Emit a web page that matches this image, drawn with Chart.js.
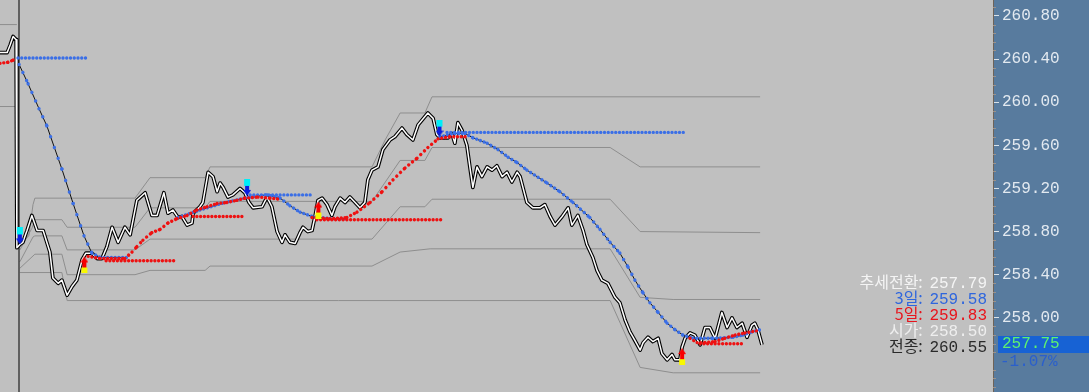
<!DOCTYPE html>
<html><head><meta charset="utf-8">
<script src="https://cdn.jsdelivr.net/npm/chart.js@4.4.1/dist/chart.umd.min.js"></script>
<style>
html,body{margin:0;padding:0;background:#c0c0c0;overflow:hidden}
#wrap{position:relative;width:1089px;height:392px}
canvas{display:block}
#legend{position:absolute;right:102px;top:273px;text-align:right;white-space:pre}
#legend div{height:16px;line-height:16px;font-size:16px}
#legend .k{font-family:"Noto Sans CJK KR",sans-serif}
#legend .v{font-family:"Liberation Mono",monospace;padding-left:3px}
#lastBox{position:absolute;left:998px;top:336px;width:91px;height:17px;background:#1762d4;color:#5ef070;font:16px/17px "Liberation Mono",monospace;padding-left:4px;box-sizing:border-box}
#chg{position:absolute;left:1000px;top:354px;height:17px;color:#2a5fcc;font:16px/17px "Liberation Mono",monospace}
</style></head>
<body><div id="wrap"><canvas id="c" width="1089" height="392"></canvas>
<div id="legend"></div><div id="lastBox"></div><div id="chg"></div></div>
<script>
// ---- data (x = bar index, y = price) ----
const yTicks = [258.00, 258.40, 258.80, 259.20, 259.60, 260.00, 260.40, 260.80];
const price = [[0,260.46],[1.9,260.46],[2.7,260.53],[3.5,260.61],[4.3,260.58],[4.5,258.65],
[5.3,258.68],[6.1,258.70],[7.2,258.81],[8.5,258.95],[9.9,258.81],[11.5,258.81],[13.3,258.61],[14.1,258.37],[15.5,258.32],[16.5,258.35],[17.9,258.21],[19.2,258.29],[20.5,258.35],[21.9,258.54],[22.9,258.60],[24.5,258.60],[25.9,258.55],[27.2,258.55],[28.5,258.66],[29.9,258.84],[31.5,258.70],[33.3,258.84],[34.7,258.77],[36.5,259.09],[38.7,259.16],[40.5,258.95],[41.9,258.95],[43.7,259.16],[44.8,258.97],[46.1,259.00],[47.5,258.93],[48.5,258.94],[49.9,258.86],[51.2,258.88],[51.5,258.97],[53.3,259.03],[54.1,259.07],[55.5,259.35],[56.8,259.31],[57.9,259.17],[58.7,259.25],[59.5,259.21],[60.8,259.12],[62.1,259.14],[64.0,259.20],[65.3,259.16],[66.4,259.07],[67.5,259.02],[69.9,259.03],[71.2,259.12],[72.5,259.03],[73.9,258.80],[75.2,258.70],[76.0,258.77],[77.3,258.70],[78.7,258.69],[80.0,258.79],[80.8,258.84],[82.1,258.80],[83.2,258.81],[84.0,258.94],[84.8,259.09],[85.9,259.11],[87.2,259.05],[88.5,258.95],[89.3,259.03],[90.7,259.11],[92.0,259.07],[93.3,259.12],[94.7,259.07],[96.0,259.02],[97.3,259.07],[98.1,259.28],[99.2,259.37],[100.8,259.40],[102.1,259.56],[104.0,259.65],[105.3,259.68],[107.2,259.76],[108.5,259.70],[110.1,259.65],[111.5,259.79],[114.1,259.90],[115.5,259.85],[116.5,259.70],[117.3,259.67],[119.5,259.67],[120.5,259.71],[121.3,259.62],[122.1,259.81],[123.2,259.74],[124.5,259.60],[125.3,259.40],[126.1,259.21],[127.2,259.40],[128.5,259.31],[129.9,259.40],[131.2,259.37],[132.5,259.41],[133.9,259.31],[135.2,259.35],[136.5,259.26],[137.9,259.35],[138.7,259.31],[140.5,259.07],[142.1,259.02],[144.0,259.02],[145.3,259.05],[146.7,258.94],[148.0,258.86],[149.9,258.94],[151.5,259.02],[152.5,258.86],[154.1,258.95],[155.5,258.81],[156.5,258.68],[158.1,258.56],[159.2,258.44],[160.5,258.35],[162.1,258.32],[164.0,258.19],[165.3,258.14],[166.7,257.98],[168.0,257.87],[169.3,257.79],[170.7,257.70],[171.5,257.77],[172.8,257.82],[174.1,257.78],[175.5,257.81],[176.5,257.67],[177.9,257.61],[179.2,257.66],[180.0,257.61],[181.3,257.61],[181.9,257.73],[182.7,257.81],[184.0,257.86],[185.3,257.84],[186.7,257.75],[188.0,257.91],[189.3,257.91],[190.7,257.81],[192.5,258.05],[193.9,257.91],[195.2,258.00],[196.5,257.91],[197.9,257.95],[199.2,257.82],[200.5,257.93],[201.3,257.95],[202.1,257.89],[203.2,257.75]];
const sessionStart = 5.07;
const env1 = [[0,260.72],[4.5,260.72],[4.6,null],[5.3,258.69],[7.7,258.76],[8.8,259.05],[9.3,259.11],[36.0,259.11],[40.0,259.30],[54.7,259.30],[56.0,259.40],[99.2,259.40],[102.7,259.65],[106.7,259.90],[113.3,259.90],[115.2,260.05],[202.7,260.05]];
const env2 = [[0,259.96],[4.5,259.96],[4.6,null],[5.3,258.63],[8.5,258.83],[9.3,258.91],[16.5,258.91],[17.9,258.84],[36.0,258.84],[40.0,259.02],[54.7,259.02],[56.0,259.08],[99.2,259.08],[106.7,259.46],[113.3,259.46],[115.2,259.58],[162.7,259.58],[170.7,259.40],[202.7,259.40]];
const env3 = [[5.3,258.52],[8.8,258.75],[9.3,258.76],[16.5,258.76],[17.9,258.63],[36.0,258.63],[40.0,258.73],[99.2,258.73],[106.7,259.03],[113.3,259.03],[115.2,259.10],[162.7,259.10],[170.7,258.80],[202.7,258.79]];
const env4 = [[5.3,258.46],[9.3,258.59],[16.5,258.59],[17.9,258.40],[36.0,258.40],[40.0,258.44],[54.7,258.44],[56.0,258.48],[99.2,258.48],[106.7,258.61],[114.7,258.64],[162.7,258.64],[170.7,258.19],[179.5,258.17],[202.7,258.17]];
const env5 = [[5.3,258.42],[16.5,258.42],[17.9,258.16],[162.7,258.16],[170.7,257.54],[179.5,257.49],[202.7,257.49]];
const blueCurve1 = [[5.1,260.35],[7.5,260.17],[10.4,259.94],[12.5,259.78],[16.5,259.38],[19.5,259.06],[22.4,258.76],[24.5,258.60],[26.7,258.56],[33.9,258.56]];
const blueCurve2 = [[47.5,258.93],[53.3,259.00],[60.0,259.07],[66.7,259.12],[71.2,259.14],[74.7,259.11],[77.3,259.04],[80.0,258.98],[83.2,258.94],[88.0,258.92],[92.5,258.92]];
const blueCurve3 = [[117.3,259.68],[121.3,259.71],[124.0,259.71],[126.1,259.67],[129.9,259.62],[132.8,259.56],[135.5,259.49],[137.9,259.44],[140.5,259.37],[145.9,259.25],[149.3,259.17],[152.8,259.07],[157.3,258.93],[160.0,258.82],[162.7,258.70],[165.3,258.60],[167.5,258.47],[169.3,258.35],[171.5,258.23],[173.3,258.14],[175.5,258.05],[177.9,257.95],[180.0,257.89],[182.1,257.84],[184.8,257.81],[190.1,257.81],[195.5,257.82],[198.1,257.84],[200.5,257.87],[202.7,257.89]];
const blueLevels = [[4.8,23.7,260.41],[66.7,83.2,259.14],[119.2,183.2,259.72]];
const redCurve0 = [[0,260.36],[2.1,260.37],[3.5,260.39],[4.0,260.41]];
const redCurve1 = [[23.5,258.57],[26.7,258.55],[33.3,258.55],[35.2,258.61],[36.5,258.66],[38.1,258.72],[40.5,258.79],[42.7,258.82],[44.8,258.88],[47.2,258.92],[49.9,258.95],[52.5,259.00],[55.2,259.03],[57.9,259.06],[60.5,259.07],[63.2,259.09],[65.3,259.11],[68.8,259.12],[72.0,259.11],[74.7,259.10]];
const redCurve2 = [[83.2,258.93],[88.0,258.92],[92.5,258.93],[95.2,258.98],[98.7,259.07],[101.9,259.17],[104.8,259.28],[108.0,259.39],[111.2,259.48],[114.1,259.58],[116.8,259.66],[120.0,259.68],[124.8,259.68]];
const redCurve3 = [[184.0,257.81],[185.9,257.77],[188.0,257.77],[190.7,257.78],[193.3,257.81],[196.0,257.84],[198.7,257.86],[201.9,257.88]];
const redLevels = [[28.3,46.9,258.53],[51.5,65.1,258.94],[84.5,118.4,258.91],[186.7,198.7,257.76]];
const sellSignals = [[5.3,258.76],[65.9,259.21],[117.2,259.76]];
const buySignals = [[22.5,258.49],[84.9,259.00],[181.9,257.64]];
const legendLabels = ['추세전환','3일','5일','시가','전종'];
const legendValues = [257.79, 259.58, 259.83, 258.50, 260.55];
const legendColors = ['#f4f4f4','#2f66dd','#e8141c','#eeeeee','#2a2a2a'];
const lastPrice = 257.75;
const changePct = -1.07;

// ---- helpers ----
const BLUE = '#3b6fe6', RED = '#ee1111';
const pts = a => a.map(([x,y]) => ({x, y}));
function barPx(chart){ const s = chart.scales.x; return Math.abs(s.getPixelForValue(1) - s.getPixelForValue(0)); }
function dotDash(ctx){
  const dx = Math.abs(ctx.p1.x - ctx.p0.x), dy = ctx.p1.y - ctx.p0.y;
  const bp = barPx(ctx.chart);
  const len = Math.hypot(dx, dy);
  const gap = dx > 0.01 ? bp * len / dx : bp;
  return [0.01, Math.max(gap - 0.01, 0.5)];
}
function dotted(a, color, order){
  return {data: pts(a), borderColor: color, borderWidth: 3.4, borderCapStyle: 'round', pointRadius: 0, order,
    segment: {borderDash: dotDash, borderColor: color, borderWidth: 3.4, borderCapStyle: 'round'}};
}
function levelPts(l){ return [[l[0], l[2]], [l[1], l[2]]]; }
function plain(a, color, width, order, extra){
  return Object.assign({data: pts(a), borderColor: color, borderWidth: width, pointRadius: 0, order}, extra || {});
}
function arrowCanvas(up){
  const c = document.createElement('canvas'); c.width = 8; c.height = 17;
  const g = c.getContext('2d');
  if (!up){
    g.fillStyle = '#00eef8'; g.fillRect(1, 0, 6, 7);
    g.fillStyle = '#0a1ee0'; g.fillRect(2, 7, 4, 5);
    g.beginPath(); g.moveTo(0, 11); g.lineTo(8, 11); g.lineTo(4, 17); g.closePath(); g.fill();
  } else {
    g.fillStyle = '#f80000';
    g.beginPath(); g.moveTo(4, 0); g.lineTo(8, 6); g.lineTo(0, 6); g.closePath(); g.fill();
    g.fillRect(2, 6, 4, 5);
    g.fillStyle = '#f8f800'; g.fillRect(1, 11, 6, 6);
  }
  return c;
}

const datasets = [];
[env1, env2, env3, env4, env5].forEach(e => datasets.push(plain(e, '#8e8e8e', 1, 100)));
datasets.push(plain([[sessionStart, 257.312], [sessionStart, 260.948]], '#000000', 1, 95));
datasets.push(plain(price, '#000000', 3.7, 90, {borderJoinStyle: 'round'}));
datasets.push(plain(price, '#ffffff', 1.5, 89, {borderJoinStyle: 'round'}));
[blueCurve1, blueCurve2, blueCurve3].forEach(b => datasets.push(plain(b, '#111111', 1, 70)));
[blueCurve1, blueCurve2, blueCurve3].forEach(b => datasets.push(dotted(b, BLUE, 60)));
blueLevels.forEach(l => datasets.push(dotted(levelPts(l), BLUE, 60)));
[redCurve0, redCurve1, redCurve2, redCurve3].forEach(r => datasets.push(dotted(r, RED, 50)));
redLevels.forEach(l => datasets.push(dotted(levelPts(l), RED, 50)));
datasets.push({data: pts(sellSignals), showLine: false, pointStyle: arrowCanvas(false), pointRadius: 8, order: 5});
datasets.push({data: pts(buySignals), showLine: false, pointStyle: arrowCanvas(true), pointRadius: 8, order: 5});

const bgPlugin = {
  id: 'bg',
  beforeDraw(chart){
    const {ctx, chartArea} = chart;
    ctx.save();
    ctx.fillStyle = '#c0c0c0'; ctx.fillRect(0, 0, chart.width, chart.height);
    ctx.fillStyle = '#587b9e'; ctx.fillRect(chartArea.right, 0, chart.width - chartArea.right, chart.height);
    ctx.restore();
  },
  afterDraw(chart){
    const {ctx, chartArea} = chart; const s = chart.scales.y;
    ctx.save(); ctx.strokeStyle = '#9c928a'; ctx.lineWidth = 1;
    for (let k = Math.ceil(s.min / 0.08); k * 0.08 <= s.max; k++){
      const v = k * 0.08; const r = v / 0.4;
      if (Math.abs(r - Math.round(r)) < 1e-6) continue;
      const y = Math.round(s.getPixelForValue(v)) + 0.5;
      ctx.beginPath(); ctx.moveTo(chartArea.right, y); ctx.lineTo(chartArea.right + 3, y); ctx.stroke();
    }
    ctx.restore();
  }
};

new Chart(document.getElementById('c'), {
  type: 'line',
  data: {datasets},
  options: {
    responsive: false, animation: false, devicePixelRatio: 1,
    layout: {padding: 0, autoPadding: false},
    plugins: {legend: {display: false}, tooltip: {enabled: false}},
    elements: {line: {tension: 0}, point: {radius: 0}},
    scales: {
      x: {type: 'linear', min: 0, max: 264.8, display: false},
      y: {position: 'right', min: 257.312, max: 260.948,
        afterBuildTicks: s => { s.ticks = yTicks.map(v => ({value: v})); },
        afterFit: s => { s.width = 96; s.paddingTop = 0; s.paddingBottom = 0; },
        grid: {drawOnChartArea: false, drawTicks: true, tickLength: 6, tickColor: '#d9e1e8'},
        border: {display: true, color: '#6e6358', width: 1},
        ticks: {color: '#e2e9f0', padding: 3, font: {family: 'Liberation Mono', size: 16}, callback: v => Number(v).toFixed(2)}
      }
    }
  },
  plugins: [bgPlugin]
});

const leg = document.getElementById('legend');
legendLabels.forEach((l, i) => {
  const d = document.createElement('div'); d.style.color = legendColors[i];
  const k = document.createElement('span'); k.className = 'k'; k.textContent = l + ': ';
  const v = document.createElement('span'); v.className = 'v'; v.textContent = legendValues[i].toFixed(2);
  d.appendChild(k); d.appendChild(v); leg.appendChild(d);
});
document.getElementById('lastBox').textContent = lastPrice.toFixed(2);
document.getElementById('chg').textContent = changePct.toFixed(2) + '%';
</script></body></html>
